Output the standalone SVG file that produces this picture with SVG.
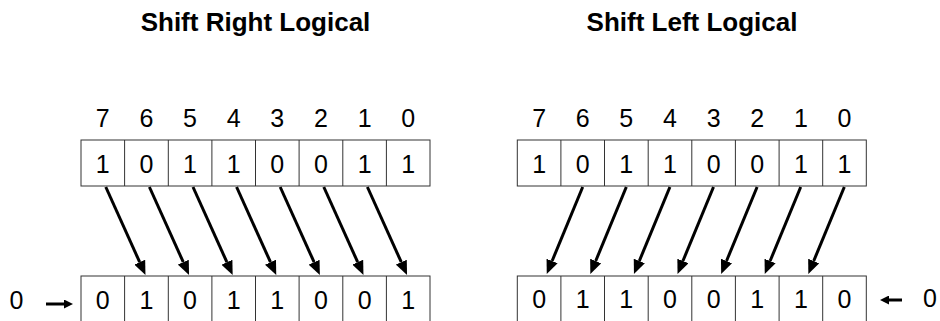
<svg xmlns="http://www.w3.org/2000/svg" width="940" height="321" viewBox="0 0 940 321">
<style>
.t{font-family:"Liberation Sans",Arial,sans-serif;font-size:25px;fill:#000;text-anchor:middle}
.h{font-family:"Liberation Sans",Arial,sans-serif;font-size:26px;font-weight:bold;fill:#000;text-anchor:middle}
.c{fill:#fff;stroke:#333;stroke-width:1}
.a{stroke:#000;stroke-width:3;fill:none}
</style>
<defs>
<marker id="ah" viewBox="0 0 14 12" refX="0" refY="6" markerWidth="14" markerHeight="12" markerUnits="userSpaceOnUse" orient="auto"><path d="M0,0 L14,6 L0,12 z" fill="#000"/></marker>
<marker id="sm" viewBox="0 0 9 9" refX="0" refY="4.5" markerWidth="9" markerHeight="9" markerUnits="userSpaceOnUse" orient="auto"><path d="M0,0 L9,4.5 L0,9 z" fill="#000"/></marker>
</defs>
<rect width="940" height="321" fill="#fff"/>
<g id="titles">
<text class="h" x="255.5" y="31">Shift Right Logical</text>
<text class="h" x="692" y="31">Shift Left Logical</text>
</g>
<g id="srl-index">
<text class="t" x="102.8" y="127">7</text><text class="t" x="146.4" y="127">6</text><text class="t" x="190" y="127">5</text><text class="t" x="233.7" y="127">4</text><text class="t" x="277.3" y="127">3</text><text class="t" x="320.9" y="127">2</text><text class="t" x="364.6" y="127">1</text><text class="t" x="408.2" y="127">0</text>
</g>
<g id="srl-top">
<rect class="c" x="81" y="140" width="349" height="46"/>
<path d="M124.6,140V186M168.3,140V186M211.9,140V186M255.5,140V186M299.1,140V186M342.8,140V186M386.4,140V186" stroke="#333" stroke-width="1"/>
<text class="t" x="102.8" y="173">1</text><text class="t" x="146.4" y="173">0</text><text class="t" x="190" y="173">1</text><text class="t" x="233.7" y="173">1</text><text class="t" x="277.3" y="173">0</text><text class="t" x="320.9" y="173">0</text><text class="t" x="364.6" y="173">1</text><text class="t" x="408.2" y="173">1</text>
</g>
<g id="srl-bottom">
<rect class="c" x="81" y="276" width="349" height="46"/>
<path d="M124.6,276V322M168.3,276V322M211.9,276V322M255.5,276V322M299.1,276V322M342.8,276V322M386.4,276V322" stroke="#333" stroke-width="1"/>
<text class="t" x="102.8" y="309">0</text><text class="t" x="146.4" y="309">1</text><text class="t" x="190" y="309">0</text><text class="t" x="233.7" y="309">1</text><text class="t" x="277.3" y="309">1</text><text class="t" x="320.9" y="309">0</text><text class="t" x="364.6" y="309">0</text><text class="t" x="408.2" y="309">1</text>
</g>
<g id="srl-in"><text class="t" x="16.5" y="309">0</text></g>
<g id="sll-index">
<text class="t" x="539.1" y="127">7</text><text class="t" x="582.7" y="127">6</text><text class="t" x="626.3" y="127">5</text><text class="t" x="670" y="127">4</text><text class="t" x="713.6" y="127">3</text><text class="t" x="757.2" y="127">2</text><text class="t" x="800.9" y="127">1</text><text class="t" x="844.5" y="127">0</text>
</g>
<g id="sll-top">
<rect class="c" x="517.3" y="140" width="349" height="46"/>
<path d="M560.9,140V186M604.5,140V186M648.2,140V186M691.8,140V186M735.4,140V186M779.1,140V186M822.7,140V186" stroke="#333" stroke-width="1"/>
<text class="t" x="539.1" y="173">1</text><text class="t" x="582.7" y="173">0</text><text class="t" x="626.3" y="173">1</text><text class="t" x="670" y="173">1</text><text class="t" x="713.6" y="173">0</text><text class="t" x="757.2" y="173">0</text><text class="t" x="800.9" y="173">1</text><text class="t" x="844.5" y="173">1</text>
</g>
<g id="sll-bottom">
<rect class="c" x="517.3" y="276" width="349" height="46"/>
<path d="M560.9,276V322M604.5,276V322M648.2,276V322M691.8,276V322M735.4,276V322M779.1,276V322M822.7,276V322" stroke="#333" stroke-width="1"/>
<text class="t" x="539.1" y="308">0</text><text class="t" x="582.7" y="308">1</text><text class="t" x="626.3" y="308">1</text><text class="t" x="670" y="308">0</text><text class="t" x="713.6" y="308">0</text><text class="t" x="757.2" y="308">1</text><text class="t" x="800.9" y="308">1</text><text class="t" x="844.5" y="308">0</text>
</g>
<g id="sll-in"><text class="t" x="930" y="307">0</text></g>
<g id="connectors">
<g class="a" marker-end="url(#ah)">
<line x1="105.8" y1="187" x2="139.7" y2="262.2"/>
<line x1="149.4" y1="187" x2="183.3" y2="262.2"/>
<line x1="193" y1="187" x2="226.9" y2="262.2"/>
<line x1="236.6" y1="187" x2="270.5" y2="262.2"/>
<line x1="280.2" y1="187" x2="314.1" y2="262.2"/>
<line x1="323.8" y1="187" x2="357.7" y2="262.2"/>
<line x1="367.4" y1="187" x2="401.3" y2="262.2"/>
<line x1="582.7" y1="187" x2="552.1" y2="261"/>
<line x1="626.3" y1="187" x2="595.7" y2="261"/>
<line x1="669.9" y1="187" x2="639.3" y2="261"/>
<line x1="713.5" y1="187" x2="682.9" y2="261"/>
<line x1="757.1" y1="187" x2="726.5" y2="261"/>
<line x1="800.7" y1="187" x2="770.1" y2="261"/>
<line x1="844.3" y1="187" x2="813.7" y2="261"/>
</g>
<g class="a" marker-end="url(#sm)">
<line x1="46" y1="304" x2="64" y2="304"/>
<line x1="902" y1="300" x2="889" y2="300"/>
</g>
</g>
</svg>
